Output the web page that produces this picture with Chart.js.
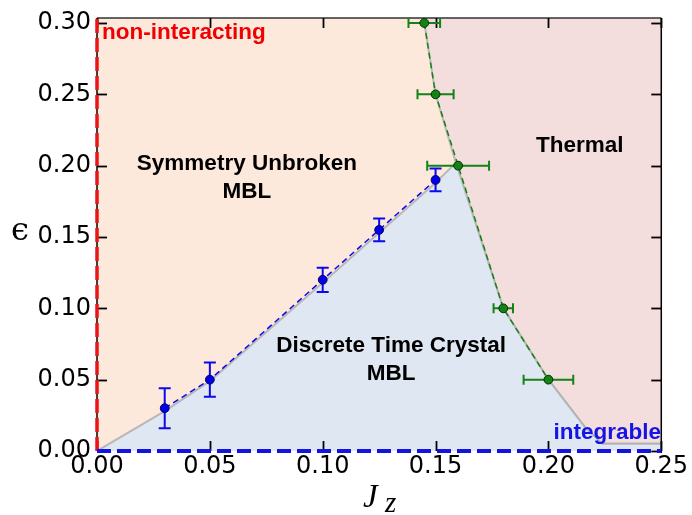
<!DOCTYPE html>
<html>
<head>
<meta charset="utf-8">
<script src="https://cdn.jsdelivr.net/npm/chart.js@4/dist/chart.umd.min.js"></script>
<style>
  html, body { margin: 0; padding: 0; background: #ffffff; }
  #wrap { width: 692px; height: 515px; position: relative; }
</style>
</head>
<body>
<div id="wrap"><canvas id="c" width="692" height="515"></canvas></div>
<script>
// Critical points of the DTC / symmetry-unbroken transition (J_z, epsilon ± err)
const dtcJz     = [0.03, 0.05, 0.10, 0.125, 0.15];
const dtcEps    = [0.030, 0.050, 0.120, 0.155, 0.190];
const dtcEpsErr = [0.014, 0.012, 0.0085, 0.008, 0.008];

// Critical points of the MBL / thermal transition (J_z ± err, epsilon)
const thermJz    = [0.145, 0.150, 0.160, 0.180, 0.200];
const thermEps   = [0.30, 0.25, 0.20, 0.10, 0.05];
const thermJzErr = [0.007, 0.008, 0.0137, 0.0043, 0.011];

// Phase region boundaries
const thermalEdgeJz  = [0.1447, 0.150, 0.159, 0.180, 0.200, 0.2165, 0.224, 0.25];
const thermalEdgeEps = [0.3035, 0.250, 0.202, 0.100, 0.050, 0.016, 0.005, 0.005];
const dtcEdgeJz  = [0, 0.03, 0.05, 0.10, 0.125, 0.15, 0.159, 0.180, 0.200, 0.2165, 0.224, 0.25];
const dtcEdgeEps = [0, 0.028, 0.049, 0.118, 0.153, 0.188, 0.202, 0.100, 0.050, 0.016, 0.005, 0.005];

// Axis limits and tick values
const xRange = [0, 0.25];
const yRange = [0, 0.3035];
const xTicks = [0, 0.05, 0.10, 0.15, 0.20, 0.25];
const yTicks = [0, 0.05, 0.10, 0.15, 0.20, 0.25, 0.30];

const pts = (xs, ys) => xs.map((x, i) => ({ x: x, y: ys[i] }));

const COLORS = {
  unbroken: 'rgb(253,232,220)',
  thermal:  'rgb(243,221,221)',
  dtc:      'rgb(223,231,242)',
  edge:     'rgba(175,175,175,0.85)',
  blue:     'rgb(10,10,235)',
  green:    'rgb(20,130,20)',
  red:      'rgb(235,20,20)'
};

// Region names, placed in data coordinates
const notes = [
  { lines: ['non-interacting'], x: 0.0022, y: 0.2887, color: 'rgb(240,0,0)', align: 'left' },
  { lines: ['Symmetry Unbroken', 'MBL'], x: 0.0664, y: 0.1968, color: '#000', align: 'center' },
  { lines: ['Thermal'], x: 0.2139, y: 0.2093, color: '#000', align: 'center' },
  { lines: ['Discrete Time Crystal', 'MBL'], x: 0.1303, y: 0.0691, color: '#000', align: 'center' },
  { lines: ['integrable'], x: 0.2022, y: 0.0081, color: 'rgb(20,20,230)', align: 'left' }
];

const ptsDtc = pts(dtcJz, dtcEps);
const ptsTherm = pts(thermJz, thermEps);

const decor = {
  id: 'decor',
  beforeDatasetsDraw(chart) {
    const { ctx, chartArea: a } = chart;
    ctx.save();
    ctx.fillStyle = COLORS.unbroken;
    ctx.fillRect(a.left, a.top, a.right - a.left, a.bottom - a.top);
    ctx.restore();
  },
  beforeDatasetDraw(chart, args) {
    const ds = chart.data.datasets[args.index];
    const { ctx, chartArea: a } = chart;
    const xs = chart.scales.x, ys = chart.scales.y;
    if (ds.role === 'axes') {
      ctx.save();
      // frame
      ctx.lineWidth = 1.5;
      ctx.strokeStyle = '#333';
      ctx.beginPath(); ctx.moveTo(a.left, a.top); ctx.lineTo(a.right, a.top); ctx.stroke();
      ctx.strokeStyle = '#000';
      ctx.beginPath(); ctx.moveTo(a.right, a.top); ctx.lineTo(a.right, a.bottom + 2); ctx.stroke();
      ctx.beginPath(); ctx.moveTo(a.left, a.top); ctx.lineTo(a.left, a.bottom); ctx.stroke();
      // inward ticks on all four sides
      const L = 10;
      ctx.lineWidth = 1.8;
      xTicks.forEach(v => {
        const px = Math.round(xs.getPixelForValue(v)) + 0.5;
        ctx.beginPath(); ctx.moveTo(px, a.top); ctx.lineTo(px, a.top + L); ctx.stroke();
        ctx.beginPath(); ctx.moveTo(px, a.bottom); ctx.lineTo(px, a.bottom - L); ctx.stroke();
      });
      yTicks.forEach(v => {
        const py = Math.round(ys.getPixelForValue(v)) + 0.5;
        ctx.beginPath(); ctx.moveTo(a.left, py); ctx.lineTo(a.left + L, py); ctx.stroke();
        ctx.beginPath(); ctx.moveTo(a.right, py); ctx.lineTo(a.right - L, py); ctx.stroke();
      });
      ctx.restore();
    }
    if (ds.role === 'dtcPoints') {
      ctx.save();
      ctx.strokeStyle = COLORS.blue;
      ctx.lineWidth = 2;
      const cap = 6;
      dtcJz.forEach((x, i) => {
        const px = xs.getPixelForValue(x);
        const y1 = ys.getPixelForValue(dtcEps[i] - dtcEpsErr[i]);
        const y2 = ys.getPixelForValue(dtcEps[i] + dtcEpsErr[i]);
        ctx.beginPath();
        ctx.moveTo(px, y1); ctx.lineTo(px, y2);
        ctx.moveTo(px - cap, y1); ctx.lineTo(px + cap, y1);
        ctx.moveTo(px - cap, y2); ctx.lineTo(px + cap, y2);
        ctx.stroke();
      });
      ctx.restore();
    }
    if (ds.role === 'thermPoints') {
      ctx.save();
      ctx.strokeStyle = COLORS.green;
      ctx.lineWidth = 2;
      const cap = 5;
      thermJz.forEach((x, i) => {
        const py = ys.getPixelForValue(thermEps[i]);
        const x1 = xs.getPixelForValue(x - thermJzErr[i]);
        const x2 = xs.getPixelForValue(x + thermJzErr[i]);
        ctx.beginPath();
        ctx.moveTo(x1, py); ctx.lineTo(x2, py);
        ctx.moveTo(x1, py - cap); ctx.lineTo(x1, py + cap);
        ctx.moveTo(x2, py - cap); ctx.lineTo(x2, py + cap);
        ctx.stroke();
      });
      ctx.restore();
    }
  },
  afterDatasetsDraw(chart) {
    const { ctx } = chart;
    const xs = chart.scales.x, ys = chart.scales.y;
    ctx.save();
    ctx.font = 'bold 22.5px "Liberation Sans", Arial, sans-serif';
    ctx.textBaseline = 'alphabetic';
    notes.forEach(n => {
      ctx.fillStyle = n.color;
      ctx.textAlign = n.align;
      const px = xs.getPixelForValue(n.x);
      const py = ys.getPixelForValue(n.y);
      n.lines.forEach((t, k) => ctx.fillText(t, px, py + k * 27.5));
    });
    // axis titles
    ctx.fillStyle = '#000';
    ctx.textAlign = 'center';
    ctx.textBaseline = 'middle';
    ctx.font = '32px "DejaVu Serif", serif';
    ctx.fillText('\u03F5', 20, 232);
    ctx.textAlign = 'left';
    ctx.textBaseline = 'alphabetic';
    ctx.font = 'italic 33px "Liberation Serif", serif';
    ctx.fillText('J', 363, 507);
    ctx.font = 'italic 29px "Liberation Serif", serif';
    ctx.fillText('z', 385, 512);
    ctx.restore();
  }
};

new Chart(document.getElementById('c'), {
  type: 'line',
  data: {
    datasets: [
      {
        role: 'dtcPoints',
        data: ptsDtc,
        showLine: true,
        borderColor: COLORS.blue,
        borderWidth: 1.5,
        borderDash: [6, 4],
        pointRadius: 4.4,
        pointBackgroundColor: 'rgb(0,0,235)',
        pointBorderColor: 'rgb(0,0,90)',
        pointBorderWidth: 1,
        fill: false,
        order: 1
      },
      {
        role: 'thermPoints',
        data: ptsTherm,
        showLine: true,
        borderColor: COLORS.green,
        borderWidth: 1.5,
        borderDash: [6, 4],
        pointRadius: 4.4,
        pointBackgroundColor: 'rgb(20,130,20)',
        pointBorderColor: 'rgb(0,50,0)',
        pointBorderWidth: 1,
        fill: false,
        order: 1
      },
      {
        role: 'axes',
        data: pts([xRange[0], xRange[0]], [yRange[0], yRange[1]]),
        borderColor: COLORS.red,
        borderWidth: 3.5,
        borderDash: [14, 5],
        pointRadius: 0,
        fill: false,
        clip: false,
        order: 3
      },
      {
        data: pts([xRange[0], xRange[1]], [yRange[0], yRange[0]]),
        borderColor: 'rgb(20,20,225)',
        borderWidth: 4,
        borderDash: [14, 6],
        pointRadius: 0,
        fill: false,
        clip: false,
        order: 2
      },
      {
        data: pts(dtcEdgeJz, dtcEdgeEps),
        borderColor: COLORS.edge,
        borderWidth: 2,
        backgroundColor: COLORS.dtc,
        pointRadius: 0,
        fill: 'origin',
        order: 9
      },
      {
        data: pts(thermalEdgeJz, thermalEdgeEps),
        borderColor: COLORS.edge,
        borderWidth: 2,
        backgroundColor: COLORS.thermal,
        pointRadius: 0,
        fill: 'end',
        order: 10
      }
    ]
  },
  options: {
    responsive: false,
    animation: false,
    events: [],
    layout: { padding: { top: 11.5, right: 30, left: 0, bottom: 0 } },
    plugins: { legend: { display: false }, tooltip: { enabled: false } },
    elements: { line: { tension: 0 } },
    scales: {
      x: {
        type: 'linear',
        min: xRange[0], max: xRange[1],
        afterBuildTicks: s => { s.ticks = xTicks.map(v => ({ value: v })); },
        afterFit: s => { s.height = 64; },
        grid: { display: false, drawTicks: false },
        border: { display: false },
        ticks: {
          color: '#000',
          padding: 4,
          maxRotation: 0,
          autoSkip: false,
          font: { family: '"DejaVu Sans"', size: 24, lineHeight: 1 },
          callback: v => Number(v).toFixed(2)
        }
      },
      y: {
        type: 'linear',
        min: yRange[0], max: yRange[1],
        afterBuildTicks: s => { s.ticks = yTicks.map(v => ({ value: v })); },
        afterFit: s => { s.width = 97; },
        grid: { display: false, drawTicks: false },
        border: { display: false },
        ticks: {
          color: '#000',
          padding: 6,
          autoSkip: false,
          font: { family: '"DejaVu Sans"', size: 24, lineHeight: 1 },
          callback: v => Number(v).toFixed(2)
        }
      }
    }
  },
  plugins: [decor]
});
</script>
</body>
</html>
